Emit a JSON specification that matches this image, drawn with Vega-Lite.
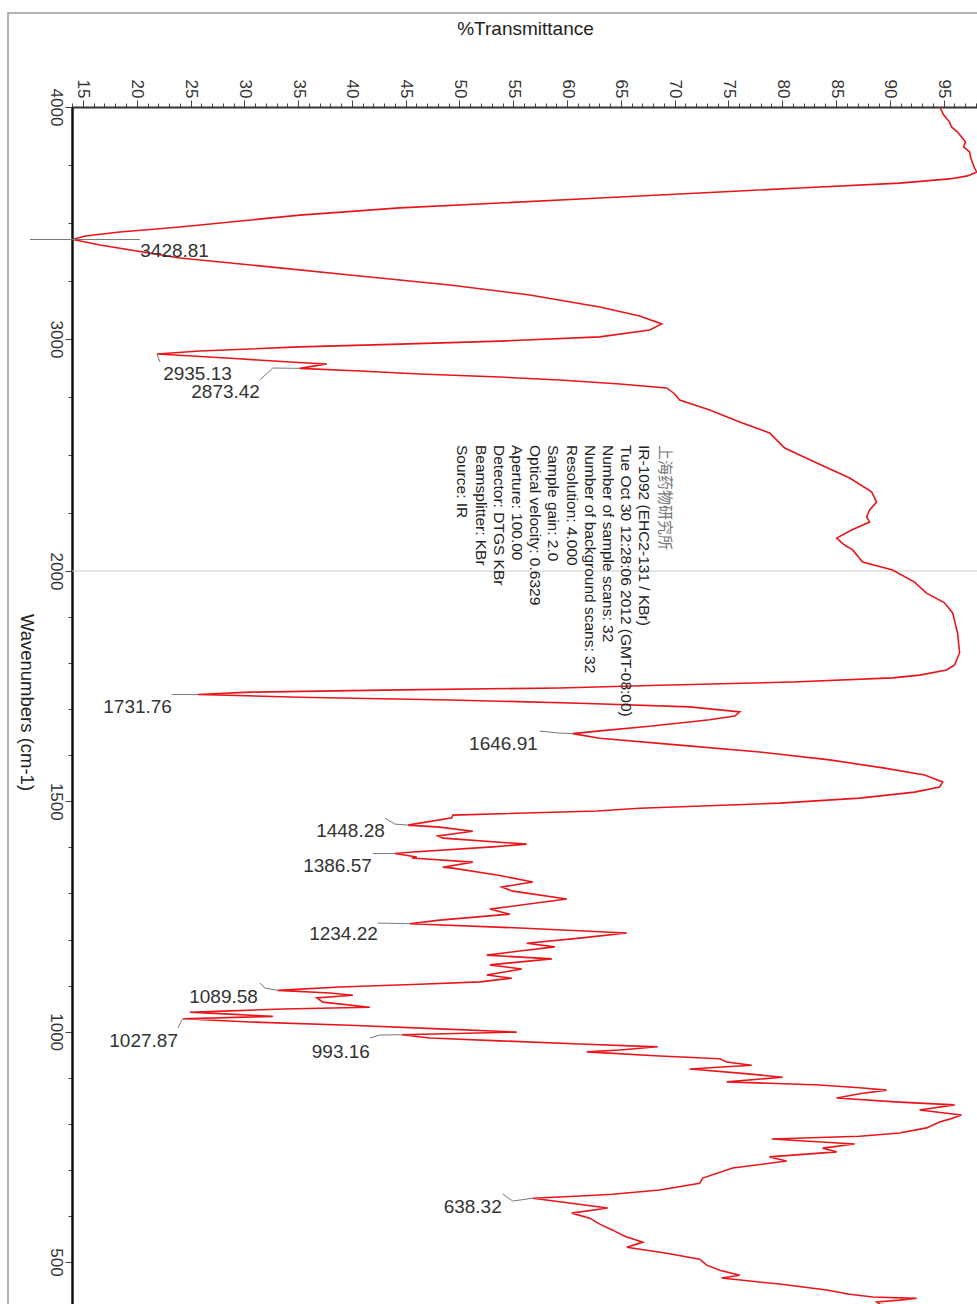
{
  "$schema": "https://vega.github.io/schema/vega-lite/v6.json",
  "width": 906,
  "height": 1201,
  "autosize": {"type": "none"},
  "padding": {"left": 72, "top": 107, "right": 0, "bottom": 0},
  "background": "white",
  "config": {"view": {"stroke": null}, "font": "Liberation Sans"},
  "datasets": {
    "frame": [{"T": 8.03, "T2": 120, "wn": 4405, "wn2": 0}],
    "cursor": [{"wn": 2000, "T": 13.98, "T2": 98.2}],
    "spectrum": [
      {"wn": 4000, "T": 94.63}, {"wn": 3966, "T": 95.0}, {"wn": 3935, "T": 95.56}, {"wn": 3914, "T": 95.74},
      {"wn": 3892, "T": 96.3}, {"wn": 3871, "T": 96.67}, {"wn": 3849, "T": 97.04}, {"wn": 3828, "T": 96.86},
      {"wn": 3806, "T": 97.42}, {"wn": 3784, "T": 97.51}, {"wn": 3759, "T": 97.7}, {"wn": 3737, "T": 97.88},
      {"wn": 3720, "T": 98.07}, {"wn": 3703, "T": 97.23}, {"wn": 3690, "T": 95.56}, {"wn": 3672, "T": 90.91},
      {"wn": 3651, "T": 81.62}, {"wn": 3629, "T": 72.33}, {"wn": 3608, "T": 63.04}, {"wn": 3586, "T": 53.75},
      {"wn": 3565, "T": 44.45}, {"wn": 3534, "T": 35.16}, {"wn": 3483, "T": 24.01}, {"wn": 3461, "T": 18.44},
      {"wn": 3444, "T": 15.19}, {"wn": 3428.81, "T": 14.07}, {"wn": 3405, "T": 16.58}, {"wn": 3349, "T": 24.01},
      {"wn": 3315, "T": 31.45}, {"wn": 3276, "T": 39.81}, {"wn": 3233, "T": 49.1}, {"wn": 3190, "T": 56.53},
      {"wn": 3138, "T": 63.04}, {"wn": 3099, "T": 66.75}, {"wn": 3065, "T": 68.8}, {"wn": 3039, "T": 67.68},
      {"wn": 3009, "T": 63.04}, {"wn": 2991, "T": 53.75}, {"wn": 2978, "T": 44.45}, {"wn": 2966, "T": 35.16},
      {"wn": 2948, "T": 25.87}, {"wn": 2935.13, "T": 21.88}, {"wn": 2918, "T": 28.38}, {"wn": 2901, "T": 34.23},
      {"wn": 2892, "T": 37.67}, {"wn": 2884, "T": 36.56}, {"wn": 2873.42, "T": 35.16}, {"wn": 2862, "T": 40.74},
      {"wn": 2849, "T": 46.31}, {"wn": 2836, "T": 53.75}, {"wn": 2823, "T": 59.32}, {"wn": 2806, "T": 64.9},
      {"wn": 2789, "T": 69.26}, {"wn": 2763, "T": 70.01}, {"wn": 2737, "T": 70.47}, {"wn": 2694, "T": 73.26},
      {"wn": 2642, "T": 76.05}, {"wn": 2595, "T": 78.83}, {"wn": 2560, "T": 79.58}, {"wn": 2530, "T": 80.23},
      {"wn": 2470, "T": 83.01}, {"wn": 2401, "T": 86.27}, {"wn": 2341, "T": 88.31}, {"wn": 2297, "T": 88.78},
      {"wn": 2263, "T": 88.12}, {"wn": 2233, "T": 87.85}, {"wn": 2211, "T": 88.12}, {"wn": 2177, "T": 86.45},
      {"wn": 2142, "T": 85.06}, {"wn": 2112, "T": 85.8}, {"wn": 2091, "T": 86.55}, {"wn": 2039, "T": 87.47},
      {"wn": 2004, "T": 90.26}, {"wn": 1976, "T": 92.3}, {"wn": 1952, "T": 93.42}, {"wn": 1931, "T": 95.09},
      {"wn": 1909, "T": 95.84}, {"wn": 1865, "T": 96.3}, {"wn": 1822, "T": 96.49}, {"wn": 1796, "T": 96.02},
      {"wn": 1785, "T": 95.28}, {"wn": 1774, "T": 92.77}, {"wn": 1768, "T": 90.26}, {"wn": 1759, "T": 80.97},
      {"wn": 1752, "T": 68.61}, {"wn": 1746, "T": 59.32}, {"wn": 1742, "T": 44.45}, {"wn": 1737, "T": 30.52},
      {"wn": 1731.76, "T": 25.69}, {"wn": 1726, "T": 35.16}, {"wn": 1720, "T": 49.1}, {"wn": 1713, "T": 61.18},
      {"wn": 1705, "T": 71.4}, {"wn": 1694, "T": 76.05}, {"wn": 1685, "T": 75.59}, {"wn": 1677, "T": 73.26},
      {"wn": 1663, "T": 67.68}, {"wn": 1653, "T": 63.04}, {"wn": 1646.91, "T": 60.53}, {"wn": 1637, "T": 63.04},
      {"wn": 1622, "T": 70.47}, {"wn": 1607, "T": 77.9}, {"wn": 1590, "T": 84.41}, {"wn": 1572, "T": 89.52},
      {"wn": 1557, "T": 93.24}, {"wn": 1542, "T": 94.91}, {"wn": 1531, "T": 94.63}, {"wn": 1520, "T": 92.3},
      {"wn": 1507, "T": 87.2}, {"wn": 1496, "T": 79.76}, {"wn": 1485, "T": 66.75}, {"wn": 1479, "T": 62.76},
      {"wn": 1470, "T": 49.38}, {"wn": 1464, "T": 49.29}, {"wn": 1448.28, "T": 45.2}, {"wn": 1444, "T": 48.17},
      {"wn": 1435, "T": 51.24}, {"wn": 1425, "T": 47.99}, {"wn": 1420, "T": 48.45}, {"wn": 1407, "T": 56.25},
      {"wn": 1401, "T": 53.09}, {"wn": 1390, "T": 45.66}, {"wn": 1386.57, "T": 43.99}, {"wn": 1379, "T": 46.03},
      {"wn": 1377, "T": 45.57}, {"wn": 1368, "T": 51.24}, {"wn": 1357, "T": 48.45}, {"wn": 1355, "T": 49.38},
      {"wn": 1340, "T": 53.47}, {"wn": 1325, "T": 56.81}, {"wn": 1314, "T": 53.93}, {"wn": 1305, "T": 54.95},
      {"wn": 1288, "T": 59.97}, {"wn": 1266, "T": 52.82}, {"wn": 1255, "T": 54.67}, {"wn": 1242, "T": 48.17},
      {"wn": 1234.22, "T": 45.38}, {"wn": 1225, "T": 55.6}, {"wn": 1214, "T": 65.55}, {"wn": 1203, "T": 61.18},
      {"wn": 1192, "T": 56.25}, {"wn": 1184, "T": 58.86}, {"wn": 1175, "T": 55.6}, {"wn": 1166, "T": 52.54},
      {"wn": 1158, "T": 58.58}, {"wn": 1145, "T": 52.82}, {"wn": 1136, "T": 55.79}, {"wn": 1123, "T": 52.54},
      {"wn": 1116, "T": 54.86}, {"wn": 1108, "T": 51.89}, {"wn": 1103, "T": 46.31}, {"wn": 1097, "T": 38.88},
      {"wn": 1089.58, "T": 33.12}, {"wn": 1084, "T": 37.95}, {"wn": 1079, "T": 40.09}, {"wn": 1073, "T": 36.74},
      {"wn": 1064, "T": 37.3}, {"wn": 1053, "T": 41.67}, {"wn": 1049, "T": 33.58}, {"wn": 1045, "T": 28.66},
      {"wn": 1042, "T": 24.94}, {"wn": 1038, "T": 28.66}, {"wn": 1033, "T": 32.65}, {"wn": 1027.87, "T": 24.29},
      {"wn": 1021, "T": 30.52}, {"wn": 1014, "T": 39.81}, {"wn": 1006, "T": 48.17}, {"wn": 999, "T": 55.33},
      {"wn": 993.16, "T": 44.64}, {"wn": 986, "T": 47.24}, {"wn": 980, "T": 53.75}, {"wn": 973, "T": 61.18},
      {"wn": 967, "T": 68.43}, {"wn": 960, "T": 64.9}, {"wn": 956, "T": 61.83}, {"wn": 947, "T": 68.61},
      {"wn": 941, "T": 74.19}, {"wn": 934, "T": 74.84}, {"wn": 927, "T": 77.16}, {"wn": 919, "T": 71.4},
      {"wn": 910, "T": 76.05}, {"wn": 901, "T": 80.04}, {"wn": 891, "T": 74.84}, {"wn": 884, "T": 83.48},
      {"wn": 878, "T": 87.2}, {"wn": 873, "T": 89.7}, {"wn": 865, "T": 87.2}, {"wn": 856, "T": 85.06},
      {"wn": 847, "T": 90.91}, {"wn": 841, "T": 96.02}, {"wn": 830, "T": 92.77}, {"wn": 819, "T": 96.67},
      {"wn": 810, "T": 95.56}, {"wn": 804, "T": 94.63}, {"wn": 791, "T": 93.42}, {"wn": 780, "T": 90.91},
      {"wn": 773, "T": 87.2}, {"wn": 767, "T": 79.02}, {"wn": 756, "T": 86.73}, {"wn": 747, "T": 83.76},
      {"wn": 739, "T": 85.06}, {"wn": 728, "T": 78.83}, {"wn": 719, "T": 80.41}, {"wn": 704, "T": 75.4},
      {"wn": 682, "T": 72.61}, {"wn": 671, "T": 72.33}, {"wn": 656, "T": 68.61}, {"wn": 647, "T": 64.25},
      {"wn": 643, "T": 61.2}, {"wn": 638.32, "T": 56.81}, {"wn": 617, "T": 63.78}, {"wn": 606, "T": 60.44},
      {"wn": 595, "T": 62.11}, {"wn": 582, "T": 63.04}, {"wn": 569, "T": 64.25}, {"wn": 556, "T": 65.36},
      {"wn": 543, "T": 67.03}, {"wn": 532, "T": 65.55}, {"wn": 519, "T": 69.26}, {"wn": 506, "T": 72.33},
      {"wn": 493, "T": 72.98}, {"wn": 482, "T": 74.19}, {"wn": 471, "T": 76.05}, {"wn": 465, "T": 74.37},
      {"wn": 452, "T": 79.76}, {"wn": 439, "T": 84.13}, {"wn": 430, "T": 86.27}, {"wn": 424, "T": 88.4},
      {"wn": 421, "T": 92.49}, {"wn": 417, "T": 90.91}, {"wn": 413, "T": 88.78}, {"wn": 408, "T": 89.1},
      {"wn": 404, "T": 90.9}, {"wn": 400, "T": 90.0}
    ],
    "leaders": [
      {"id": "3428.81", "k": 0, "T": 10.08, "wn": 3428.81}, {"id": "3428.81", "k": 1, "T": 20.3, "wn": 3428.81},
      {"id": "2935.13", "k": 0, "T": 21.88, "wn": 2935.13}, {"id": "2935.13", "k": 1, "T": 22.16, "wn": 2900.9},
      {"id": "2873.42", "k": 0, "T": 35.16, "wn": 2873.42}, {"id": "2873.42", "k": 1, "T": 32.65, "wn": 2875.0}, {"id": "2873.42", "k": 2, "T": 31.45, "wn": 2823.3},
      {"id": "1731.76", "k": 0, "T": 25.69, "wn": 1731.76}, {"id": "1731.76", "k": 1, "T": 23.27, "wn": 1731.76},
      {"id": "1646.91", "k": 0, "T": 60.53, "wn": 1646.91}, {"id": "1646.91", "k": 1, "T": 59.32, "wn": 1648.2}, {"id": "1646.91", "k": 2, "T": 57.46, "wn": 1652.5},
      {"id": "1448.28", "k": 0, "T": 45.2, "wn": 1448.28}, {"id": "1448.28", "k": 1, "T": 43.99, "wn": 1450.6}, {"id": "1448.28", "k": 2, "T": 43.06, "wn": 1463.7},
      {"id": "1386.57", "k": 0, "T": 43.99, "wn": 1386.57}, {"id": "1386.57", "k": 1, "T": 41.95, "wn": 1386.57},
      {"id": "1234.22", "k": 0, "T": 45.38, "wn": 1234.22}, {"id": "1234.22", "k": 1, "T": 42.41, "wn": 1235.7},
      {"id": "1089.58", "k": 0, "T": 33.12, "wn": 1089.58}, {"id": "1089.58", "k": 1, "T": 31.91, "wn": 1094.6}, {"id": "1089.58", "k": 2, "T": 31.45, "wn": 1105.5},
      {"id": "1027.87", "k": 0, "T": 24.29, "wn": 1027.87}, {"id": "1027.87", "k": 1, "T": 24.2, "wn": 1025.3}, {"id": "1027.87", "k": 2, "T": 23.83, "wn": 1007.9},
      {"id": "993.16", "k": 0, "T": 44.64, "wn": 993.16}, {"id": "993.16", "k": 1, "T": 42.6, "wn": 992.7}, {"id": "993.16", "k": 2, "T": 41.67, "wn": 986.2},
      {"id": "638.32", "k": 0, "T": 56.81, "wn": 638.32}, {"id": "638.32", "k": 1, "T": 54.95, "wn": 632.2}, {"id": "638.32", "k": 2, "T": 54.02, "wn": 647.4}
    ],
    "peaks": [
      {"label": "3428.81", "T": 26.71, "wn": 3351.3},
      {"label": "2935.13", "T": 28.84, "wn": 2823.3},
      {"label": "2873.42", "T": 31.45, "wn": 2745.7},
      {"label": "1731.76", "T": 23.27, "wn": 1691.7},
      {"label": "1646.91", "T": 57.28, "wn": 1611.4},
      {"label": "1448.28", "T": 43.06, "wn": 1422.5},
      {"label": "1386.57", "T": 41.85, "wn": 1346.5},
      {"label": "1234.22", "T": 42.41, "wn": 1198.9},
      {"label": "1089.58", "T": 31.26, "wn": 1062.1},
      {"label": "1027.87", "T": 23.83, "wn": 966.6},
      {"label": "993.16", "T": 41.67, "wn": 942.7},
      {"label": "638.32", "T": 53.93, "wn": 606.2}
    ],
    "infoCN": [{"label": "上海药物研究所", "T": 69.73, "wn": 2543}],
    "infoEN": [{"label": "IR-1092 (EHC2-131 / KBr)\nTue Oct 30 12:28:06 2012 (GMT-08:00)\nNumber of sample scans:  32\nNumber of background scans:  32\nResolution:  4.000\nSample gain:  2.0\nOptical velocity:  0.6329\nAperture:  100.00\nDetector:  DTGS KBr\nBeamsplitter:  KBr\nSource:  IR", "T": 67.84, "wn": 2543}]
  },
  "encoding": {
    "x": {
      "field": "T", "type": "quantitative",
      "scale": {"domain": [13.98, 98.2], "nice": false, "zero": false},
      "axis": {
        "orient": "top",
        "values": [14,15,16,17,18,19,20,21,22,23,24,25,26,27,28,29,30,31,32,33,34,35,36,37,38,39,40,41,42,43,44,45,46,47,48,49,50,51,52,53,54,55,56,57,58,59,60,61,62,63,64,65,66,67,68,69,70,71,72,73,74,75,76,77,78,79,80,81,82,83,84,85,86,87,88,89,90,91,92,93,94,95,96,97,98],
        "format": "d",
        "labelExpr": "(datum.value % 5 === 0 && datum.value >= 15 && datum.value <= 95) ? datum.label : ''",
        "labelAngle": 90, "labelAlign": "right", "labelBaseline": "middle",
        "labelFontSize": 17, "labelColor": "#333", "labelPadding": 2,
        "labelOverlap": false, "labelFlush": false, "labelBound": false,
        "tickSize": {"condition": {"test": "datum.value % 5 === 0", "value": 7}, "value": 4},
        "tickColor": "#444", "tickWidth": 1,
        "domainColor": "#333", "domainWidth": 2, "grid": false,
        "title": "%Transmittance", "titleFontSize": 19, "titleFontWeight": "normal", "titleColor": "#222",
        "titleY": -73, "titleBaseline": "alphabetic"
      }
    },
    "y": {
      "field": "wn", "type": "quantitative",
      "scale": {"domain": [4000, 2000, 400], "range": [0, 464, 1201], "nice": false, "zero": false},
      "axis": {
        "orient": "left",
        "values": [4000,3750,3500,3250,3000,2750,2500,2250,2000,1900,1800,1700,1600,1500,1400,1300,1200,1100,1000,900,800,700,600,500,400],
        "format": "d",
        "labelExpr": "indexof([4000,3000,2000,1500,1000,500], datum.value) >= 0 ? datum.label : ''",
        "labelAngle": 90, "labelAlign": "center", "labelBaseline": "top",
        "labelFontSize": 17, "labelColor": "#333", "labelPadding": 2,
        "labelOverlap": false, "labelFlush": false, "labelBound": false,
        "tickSize": {"condition": {"test": "indexof([4000,3000,2000,1500,1000,500], datum.value) >= 0", "value": 7}, "value": 4},
        "tickColor": "#444", "tickWidth": 1,
        "domainColor": "#111", "domainWidth": 2.5, "grid": false,
        "title": "Wavenumbers (cm-1)", "titleFontSize": 18.5, "titleFontWeight": "normal", "titleColor": "#222",
        "titleAngle": 90, "titleBaseline": "top", "titleAlign": "center", "titleX": -37, "titleY": 595
      }
    }
  },
  "layer": [
    {
      "data": {"name": "frame"},
      "mark": {"type": "rect", "fill": null, "stroke": "#999", "strokeWidth": 1.5, "clip": false},
      "encoding": {"x2": {"field": "T2"}, "y2": {"field": "wn2"}}
    },
    {
      "data": {"name": "cursor"},
      "mark": {"type": "rule", "color": "#c8c8c8", "strokeWidth": 1},
      "encoding": {"x2": {"field": "T2"}}
    },
    {
      "data": {"name": "spectrum"},
      "mark": {"type": "line", "color": "#e8151b", "strokeWidth": 1.6, "clip": true},
      "encoding": {"order": {"field": "wn", "sort": "descending"}}
    },
    {
      "data": {"name": "leaders"},
      "mark": {"type": "line", "color": "#777", "strokeWidth": 1, "clip": false},
      "encoding": {"detail": {"field": "id"}, "order": {"field": "k"}}
    },
    {
      "data": {"name": "peaks"},
      "mark": {"type": "text", "align": "right", "baseline": "alphabetic", "fontSize": 19, "color": "#333", "font": "Liberation Sans"},
      "encoding": {"text": {"field": "label"}}
    },
    {
      "data": {"name": "infoCN"},
      "mark": {"type": "text", "angle": 90, "align": "left", "baseline": "top", "fontSize": 15, "color": "#777", "font": "Noto Sans CJK SC"},
      "encoding": {"text": {"field": "label"}}
    },
    {
      "data": {"name": "infoEN"},
      "mark": {"type": "text", "angle": 90, "align": "left", "baseline": "top", "fontSize": 15.5, "lineHeight": 18.2, "lineBreak": "\n", "color": "#222", "font": "Liberation Sans"},
      "encoding": {"text": {"field": "label"}}
    }
  ]
}
